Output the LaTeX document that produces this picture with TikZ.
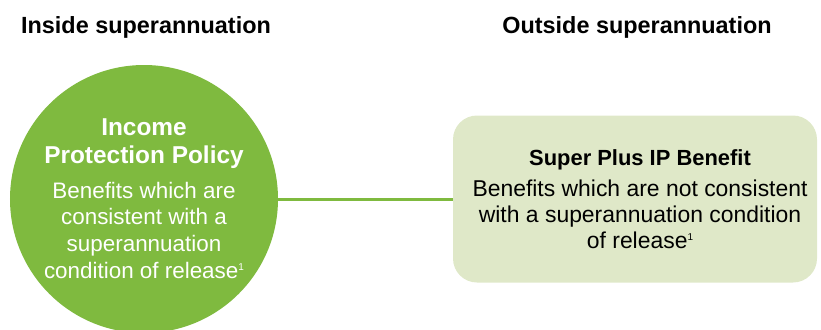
\documentclass[tikz,border=0pt]{standalone}
\usepackage{fontspec}
\setmainfont{Liberation Sans}
\usetikzlibrary{positioning}
\definecolor{ipgreen}{HTML}{7FBA3F}
\definecolor{spgreen}{HTML}{DFE8C8}
\newcommand{\fnone}{\raisebox{8bp}{\fontsize{10}{10}\selectfont 1}}

\begin{document}
\begin{tikzpicture}[x=1bp,y=-1bp,
	heading/.style={font=\fontsize{23.5}{27}\selectfont\bfseries, anchor=base},
	policy/.style={circle, fill=ipgreen, minimum size=268bp, inner sep=0pt},
	benefit/.style={rounded corners=24bp, fill=spgreen, minimum width=364bp, minimum height=167bp},
	title/.style={align=center, anchor=base, inner sep=0pt, font=\fontsize{24.5}{28}\selectfont\bfseries},
	body/.style={align=center, anchor=base, inner sep=0pt, font=\fontsize{22.5}{26.7}\selectfont},
	link/.style={ipgreen, line width=3bp}]
	\useasboundingbox (0,0) rectangle (821,329);
	\node[heading] (inside) at (146,33) {Inside superannuation};
	\node[heading] (outside) at (637,33) {Outside superannuation};
	\node[policy] (ipp) at (144,199) {};
	\node[benefit] (sp) at (635,199) {};
	\draw[link] (ipp) -- (sp);
	% texts (base = last line)
	\node[title, white] (ipptitle) at (144,163) {Income\\Protection Policy};
	\node[body, white] (ippbody) at (144,278) {Benefits which are\\consistent with a\\superannuation\\condition of release\fnone};
	\node[title, font=\fontsize{22}{26}\selectfont\bfseries] (sptitle) at (640,165) {Super Plus IP Benefit};
	\node[body, font=\fontsize{23}{26}\selectfont] (spbody) at (640,248) {Benefits which are not consistent\\with a superannuation condition\\of release\fnone};
\end{tikzpicture}
\end{document}
